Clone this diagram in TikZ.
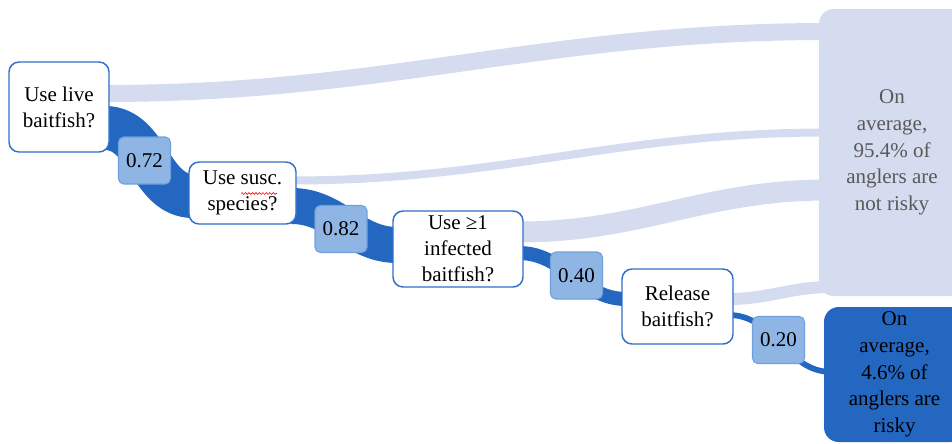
\documentclass[tikz,border=0pt]{standalone}
\usepackage{fontspec}
\setmainfont{Liberation Serif}
\usetikzlibrary{calc,decorations.pathmorphing}
\definecolor{darkband}{HTML}{2467C1}
\definecolor{lightband}{HTML}{D6DCEF}
\definecolor{boxborder}{HTML}{3070C8}
\definecolor{labelfill}{HTML}{8FB5E4}
\definecolor{labelborder}{HTML}{6FA0DC}
\definecolor{graytext}{HTML}{595959}
\pgfdeclarelayer{background}
\pgfsetlayers{background,main}
\begin{document}
\begin{tikzpicture}[x=0.75pt,y=-0.75pt,
  txt/.style={font=\fontsize{15.75}{19.5}\selectfont, align=center, inner sep=0pt},
  qbox/.style={txt, draw=boxborder, line width=1.1pt, fill=white, rounded corners=7.5pt},
  prob/.style={txt, draw=labelborder, line width=0.8pt, fill=labelfill, rounded corners=4pt,
    minimum width=39pt, minimum height=35.25pt},
  outbox/.style={txt, font=\fontsize{15.75}{20}\selectfont, rounded corners=11pt},
  nrbox/.style={outbox, fill=lightband, text=graytext},
  rbox/.style={outbox, fill=darkband, text=black},
  lflow/.style={draw=lightband},
  dflow/.style={draw=darkband}]
\path[use as bounding box] (0,0) rectangle (952,443);
\clip (0,0) rectangle (952,443);

% question boxes
\node[qbox, minimum width=75pt, minimum height=67.5pt] (b1) at (59,107) {Use live\\baitfish?};
\node[qbox, minimum width=80.25pt, minimum height=46.5pt] (b2) at (242.5,193) {Use susc.\\species?};
\node[qbox, minimum width=97.5pt, minimum height=57pt] (b3) at (458,249) {Use ≥1\\infected\\baitfish?};
\node[qbox, minimum width=83.25pt, minimum height=56.25pt] (b4) at (677.5,306.5) {Release\\baitfish?};

% outcome boxes
\node[nrbox, minimum width=109.5pt, minimum height=215.25pt] (nr) at (892,152.5) {On\\average,\\95.4\% of\\anglers are\\not risky};
\node[rbox, minimum width=105.75pt, minimum height=101.25pt] (r) at (894.5,374.5) {On\\average,\\4.6\% of\\anglers are\\risky};

% probability labels
\node[prob] (p1) at (144.5,160.5) {0.72};
\node[prob] (p2) at (341,229) {0.82};
\node[prob] (p3) at (576.5,275.5) {0.40};
\node[prob] (p4) at (778.5,340) {0.20};

% spell-check squiggle
\draw[red, line width=0.45pt, decorate, decoration={snake, amplitude=0.7pt, segment length=2.6pt}]
  ($(b2.center)+(-1.5,0.5)$) -- ($(b2.center)+(34.5,0.5)$);

\begin{pgfonlayer}{background}
% light (not risky) flows
\draw[lflow, line width=12.75pt] ($(b1.east)+(-5,-13.5)$) to[out=0,in=180] ($(nr.west)+(8,-121)$);
\draw[lflow, line width=6pt] ($(b2.east)+(-5,-12.5)$) to[out=0,in=180] ($(nr.west)+(8,-20)$);
\draw[lflow, line width=15.75pt] ($(b3.east)+(-5,-17)$) to[out=0,in=180] ($(nr.west)+(8,37.5)$);
\draw[lflow, line width=9pt] ($(b4.east)+(-5,-7.5)$) to[out=0,in=180] ($(nr.west)+(12,134.5)$);
% dark (risky) flows
\draw[dflow, line width=33pt] ($(b1.east)+(-5,21)$) to[out=0,in=180] ($(b2.west)+(5,3)$);
\draw[dflow, line width=27pt] ($(b2.east)+(-5,13)$) to[out=0,in=180] ($(b3.west)+(5,-4)$);
\draw[dflow, line width=10.5pt] ($(b3.east)+(-5,4)$) to[out=0,in=180] ($(b4.west)+(5,-7.5)$);
\draw[dflow, line width=4.3pt] ($(b4.east)+(-5,8.5)$) to[out=0,in=180] ($(r.west)+(8,-2.5)$);
\end{pgfonlayer}
\end{tikzpicture}
\end{document}
